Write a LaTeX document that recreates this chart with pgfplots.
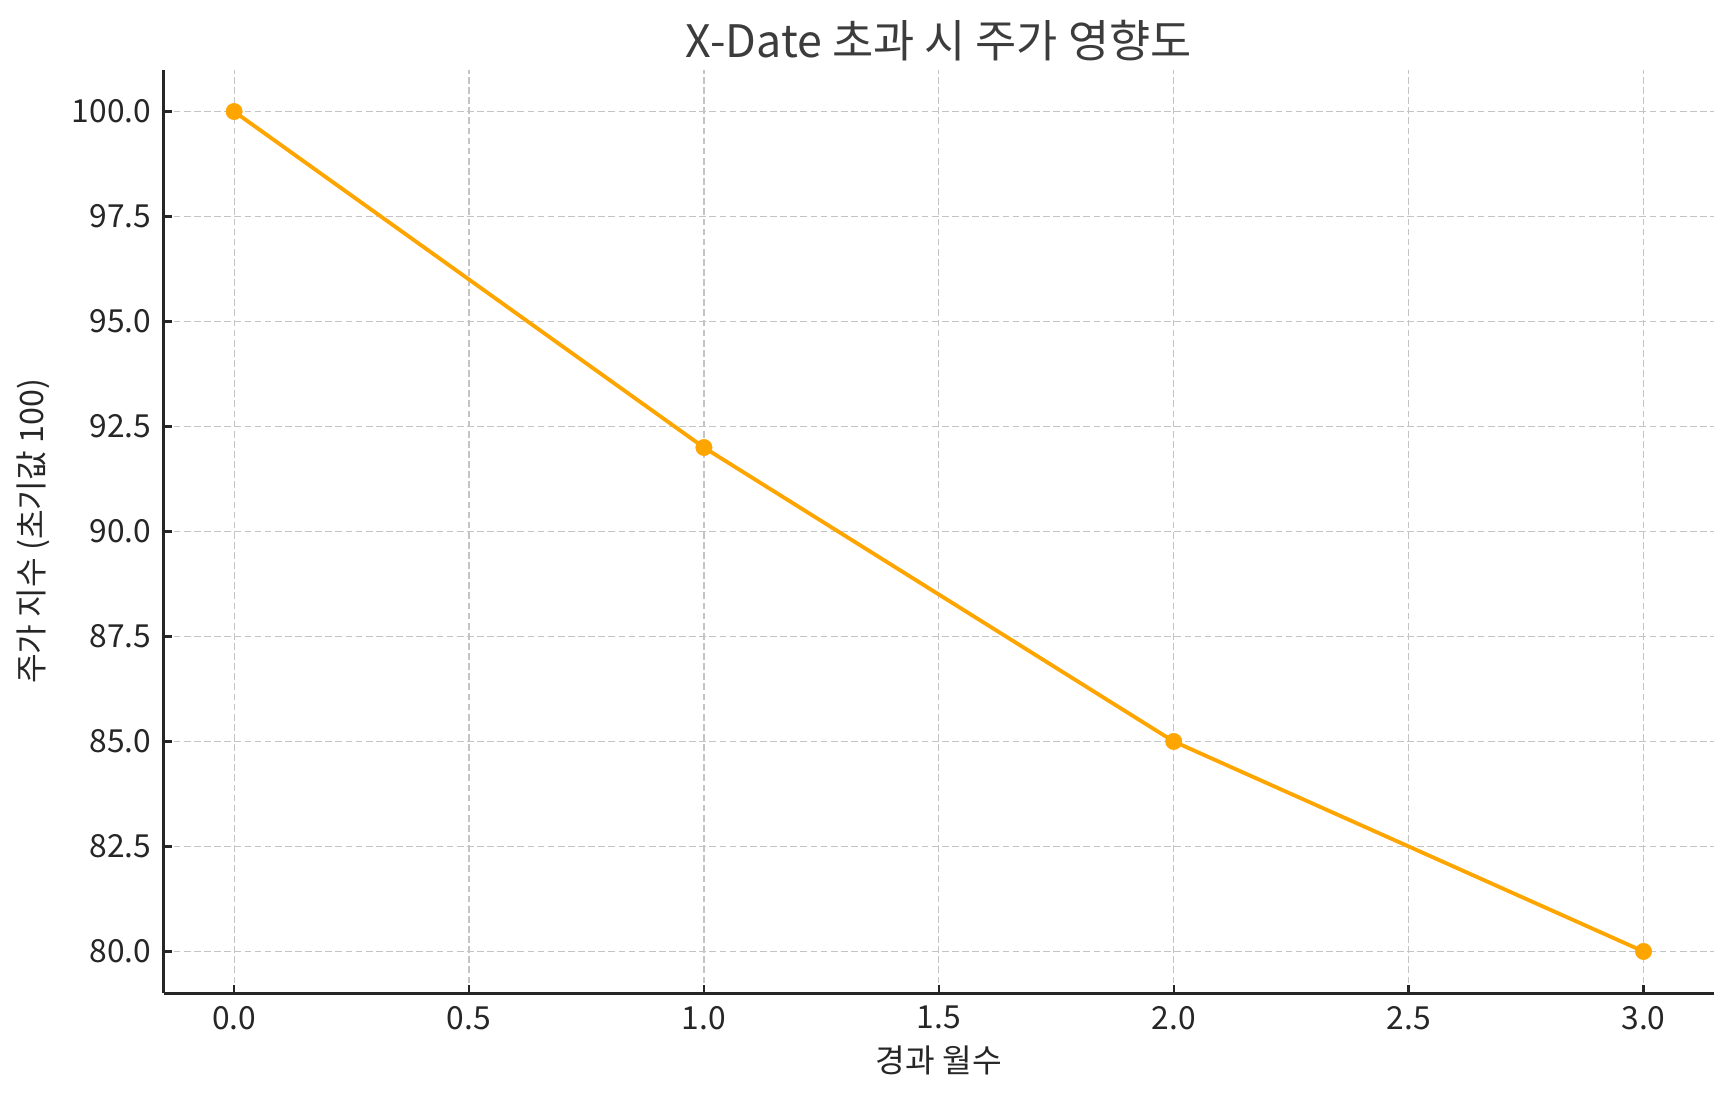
\documentclass[border=0pt]{standalone}
\usepackage{fontspec}
\setmainfont{Noto Sans CJK KR}
\usepackage{pgfplots}
\pgfplotsset{compat=1.18}
\definecolor{lineor}{HTML}{FFA500}
\definecolor{txt}{HTML}{262626}
\definecolor{gridc}{HTML}{C4C4C4}
\begin{document}
\begin{tikzpicture}
\begin{axis}[
  scale only axis,
  width=644.2pt, height=383.9pt,
  xmin=-0.15, xmax=3.15, ymin=79, ymax=101,
  axis lines*=left,
  axis line style={line width=1.2pt, color=txt, -},
  xtick={0,0.5,...,3}, ytick={80,82.5,...,100},
  tick align=inside, major tick length=3.5pt,
  tick style={line width=1pt, color=txt},
  grid=major,
  major grid style={gridc, line width=0.5pt, dash pattern=on 2.8pt off 1.4pt},
  /pgf/number format/assume math mode=true,
  /pgf/number format/.cd, fixed, fixed zerofill, precision=1, /pgfplots/.cd,
  ticklabel style={font=\fontsize{13.2}{15}\selectfont, text=txt},
  xticklabel style={inner sep=5pt},
  yticklabel style={inner sep=5pt},
  every axis title shift=0pt,
  title={X-Date 초과 시 주가 영향도},
  every axis title/.style={at={(axis description cs:0.5,1.0126)}, anchor=base, font=\fontsize{18.6}{22}\selectfont, text=txt!90},
  xlabel={경과 월수},
  ylabel={주가 지수 (초기값 100)},
  every axis x label/.style={at={(axis description cs:0.5,-0.0729)}, anchor=center, font=\fontsize{13.4}{16}\selectfont, text=txt},
  every axis y label/.style={at={(axis description cs:-0.0843,0.5)}, anchor=center, rotate=90, font=\fontsize{13.4}{16}\selectfont, text=txt},
]
\addplot[color=lineor, line width=1.6pt, mark=*, mark size=3.4pt, mark options={fill=lineor, draw=lineor, line width=0.2pt}] coordinates {
(0,100) (1,92) (2,85) (3,80)
};
\end{axis}
\pgfresetboundingbox
\path[use as bounding box] (-68.0pt,-43.8pt) rectangle (652.1pt,412.8pt);
\end{tikzpicture}
\end{document}
